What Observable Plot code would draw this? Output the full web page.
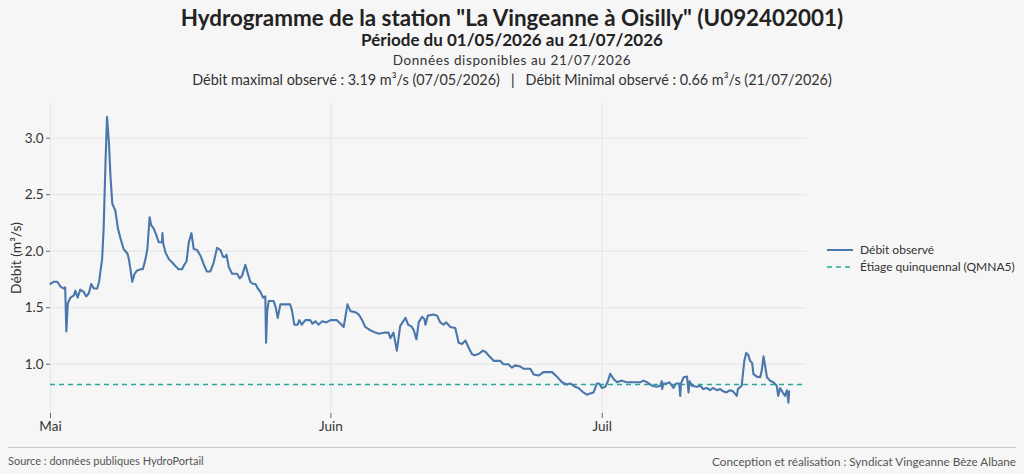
<!DOCTYPE html>
<html><head><meta charset="utf-8">
<script src="https://cdn.jsdelivr.net/npm/d3@7"></script>
<script src="https://cdn.jsdelivr.net/npm/@observablehq/plot@0.6"></script>
<style>
html,body{margin:0;padding:0;background:#f6f6f6;}
#page{position:relative;width:1024px;height:474px;background:#f6f6f6;font-family:"Lato","Noto Sans",sans-serif;color:#222;overflow:hidden;}
.t{position:absolute;left:0;width:1024px;text-align:center;white-space:nowrap;line-height:1;}
#chart{position:absolute;left:0;top:95px;}
#legend{position:absolute;left:827px;top:241px;font-size:12px;color:#333;}
#legend div{display:flex;align-items:center;height:17px;}
#legend svg{margin-right:7px;}
#foot{position:absolute;left:8px;top:447px;width:1008px;border-top:1px solid #c8c8c8;}
.f{position:absolute;top:454px;font-size:11px;color:#555;white-space:nowrap;}
</style></head>
<body><div id="page">
<div class="t" style="top:7px;font-size:22.4px;font-weight:bold;">Hydrogramme de la station "La Vingeanne à Oisilly" (U092402001)</div>
<div class="t" style="top:31px;font-size:17px;font-weight:bold;">Période du 01/05/2026 au 21/07/2026</div>
<div class="t" style="top:54px;font-size:13.5px;letter-spacing:0.6px;color:#333;">Données disponibles au 21/07/2026</div>
<div class="t" style="top:73px;font-size:14.4px;color:#333;">Débit maximal observé : 3.19 m³/s (07/05/2026) &nbsp;&nbsp;<span style="color:#222">|</span>&nbsp;&nbsp; Débit Minimal observé : 0.66 m³/s (21/07/2026)</div>
<div id="chart"></div>
<div id="legend">
 <div><svg width="26" height="4"><line x1="0" y1="2" x2="26" y2="2" stroke="#4a77ac" stroke-width="2"/></svg>Débit observé</div>
 <div><svg width="26" height="4"><line x1="0" y1="2" x2="26" y2="2" stroke="#2aa897" stroke-width="1.5" stroke-dasharray="5,4"/></svg>Étiage quinquennal (QMNA5)</div>
</div>
<div id="foot"></div>
<div class="f" style="left:8px;">Source : données publiques HydroPortail</div>
<div class="f" style="right:8px;font-size:11.7px;">Conception et réalisation : Syndicat Vingeanne Bèze Albane</div>
</div>
<script>
const dates = ["2026-05-01T00","2026-05-01T09","2026-05-01T18","2026-05-02T02","2026-05-02T11","2026-05-02T15","2026-05-02T18","2026-05-02T22",
"2026-05-03T05","2026-05-03T14","2026-05-03T18","2026-05-04T00","2026-05-04T07","2026-05-04T16","2026-05-04T23","2026-05-05T06","2026-05-05T12","2026-05-05T19",
"2026-05-06T04","2026-05-06T09","2026-05-06T12","2026-05-06T17","2026-05-06T21","2026-05-07T02","2026-05-07T06","2026-05-07T11","2026-05-07T15","2026-05-07T20",
"2026-05-08T04","2026-05-08T11","2026-05-08T18","2026-05-09T02","2026-05-09T12","2026-05-09T16","2026-05-10T01","2026-05-10T07","2026-05-10T14","2026-05-10T23",
"2026-05-11T05","2026-05-11T12","2026-05-11T17","2026-05-11T23","2026-05-12T03","2026-05-12T10","2026-05-12T16","2026-05-12T23","2026-05-13T08","2026-05-13T09",
"2026-05-13T11","2026-05-13T17","2026-05-14T02","2026-05-14T11","2026-05-14T19","2026-05-15T04","2026-05-15T13","2026-05-15T19","2026-05-16T01","2026-05-16T07",
"2026-05-16T14","2026-05-16T20","2026-05-17T05","2026-05-17T14","2026-05-17T23","2026-05-18T07","2026-05-18T16","2026-05-19T01","2026-05-19T10","2026-05-19T19",
"2026-05-20T02","2026-05-20T08","2026-05-20T11","2026-05-20T17","2026-05-21T02","2026-05-21T15","2026-05-21T22","2026-05-22T04","2026-05-22T13","2026-05-22T19",
"2026-05-23T02","2026-05-23T10","2026-05-23T16","2026-05-23T22","2026-05-24T05","2026-05-24T12","2026-05-24T18","2026-05-24T20","2026-05-24T23","2026-05-25T03",
"2026-05-25T16","2026-05-25T21","2026-05-26T03","2026-05-26T10","2026-05-27T12","2026-05-27T17","2026-05-27T23","2026-05-28T08","2026-05-28T12","2026-05-28T19",
"2026-05-29T04","2026-05-29T17","2026-05-29T23","2026-05-30T07","2026-05-30T15","2026-05-31T01","2026-05-31T12","2026-05-31T23","2026-06-01T16","2026-06-02T01",
"2026-06-02T10","2026-06-02T20","2026-06-03T04","2026-06-03T17","2026-06-04T02","2026-06-04T11","2026-06-04T19","2026-06-05T09","2026-06-05T22","2026-06-06T07",
"2026-06-07T00","2026-06-07T09","2026-06-07T14","2026-06-07T22","2026-06-08T07","2026-06-08T16","2026-06-09T06","2026-06-09T13","2026-06-09T23","2026-06-10T04",
"2026-06-10T11","2026-06-10T17","2026-06-11T02","2026-06-11T08","2026-06-11T11","2026-06-11T17","2026-06-12T08","2026-06-12T18","2026-06-13T02","2026-06-13T11",
"2026-06-13T18","2026-06-14T05","2026-06-14T18","2026-06-15T03","2026-06-15T12","2026-06-15T21","2026-06-16T05","2026-06-16T14","2026-06-16T21","2026-06-17T08",
"2026-06-17T19","2026-06-18T02","2026-06-18T10","2026-06-19T00","2026-06-19T17","2026-06-20T02","2026-06-20T15","2026-06-21T00","2026-06-21T09","2026-06-21T22",
"2026-06-22T07","2026-06-23T01","2026-06-23T10","2026-06-23T23","2026-06-24T12","2026-06-25T11","2026-06-26T00","2026-06-26T13","2026-06-27T02","2026-06-27T11",
"2026-06-28T00","2026-06-28T09","2026-06-28T22","2026-06-29T07","2026-06-29T16","2026-06-30T01","2026-06-30T10","2026-06-30T16","2026-06-30T23","2026-07-01T08",
"2026-07-01T14","2026-07-01T21","2026-07-02T06","2026-07-02T15","2026-07-03T04","2026-07-03T16","2026-07-05T05","2026-07-05T13","2026-07-05T23","2026-07-06T12",
"2026-07-07T01","2026-07-07T10","2026-07-07T14","2026-07-07T15","2026-07-07T18","2026-07-08T03","2026-07-08T10","2026-07-08T15","2026-07-08T21","2026-07-09T04",
"2026-07-09T12","2026-07-09T15","2026-07-09T17","2026-07-10T00","2026-07-10T09","2026-07-10T13","2026-07-10T16","2026-07-10T22","2026-07-11T11","2026-07-11T20",
"2026-07-12T04","2026-07-12T13","2026-07-12T22","2026-07-13T06","2026-07-13T16","2026-07-14T01","2026-07-14T09","2026-07-14T18","2026-07-15T03","2026-07-15T11",
"2026-07-15T21","2026-07-16T00","2026-07-16T10","2026-07-16T17","2026-07-16T22","2026-07-17T04","2026-07-17T08","2026-07-17T14","2026-07-17T17","2026-07-18T02",
"2026-07-18T11","2026-07-18T15","2026-07-18T20","2026-07-19T00","2026-07-19T05","2026-07-19T13","2026-07-19T22","2026-07-20T07","2026-07-20T11","2026-07-20T16",
"2026-07-20T23","2026-07-21T05","2026-07-21T10","2026-07-21T14","2026-07-21T16"];
const flows = [1.71,1.73,1.73,1.69,1.67,1.68,1.29,1.54,
1.59,1.61,1.65,1.59,1.66,1.64,1.60,1.63,1.71,1.67,
1.67,1.73,1.81,1.93,2.20,2.79,3.19,2.96,2.67,2.42,
2.36,2.20,2.11,2.02,1.98,1.93,1.73,1.80,1.83,1.84,
1.84,1.93,2.02,2.30,2.23,2.20,2.15,2.08,2.08,2.16,
2.07,1.99,1.93,1.90,1.87,1.84,1.84,1.88,1.91,2.08,
2.16,2.02,2.01,1.96,1.88,1.82,1.82,1.90,2.03,2.01,
1.95,1.95,1.97,1.86,1.80,1.80,1.76,1.78,1.88,1.81,
1.73,1.71,1.71,1.67,1.64,1.59,1.60,1.19,1.47,1.56,
1.56,1.51,1.41,1.53,1.53,1.47,1.35,1.35,1.39,1.35,
1.39,1.39,1.36,1.38,1.35,1.38,1.37,1.39,1.39,1.36,
1.33,1.53,1.47,1.46,1.44,1.39,1.33,1.30,1.28,1.27,
1.28,1.28,1.23,1.28,1.12,1.34,1.41,1.35,1.33,1.30,
1.22,1.37,1.42,1.40,1.35,1.43,1.44,1.43,1.37,1.35,
1.37,1.33,1.32,1.19,1.18,1.21,1.15,1.09,1.08,1.09,
1.12,1.11,1.08,1.03,1.03,1.00,1.00,0.97,0.99,0.98,
0.96,0.96,0.91,0.90,0.93,0.93,0.89,0.84,0.82,0.83,
0.80,0.79,0.75,0.73,0.74,0.75,0.83,0.83,0.79,0.80,
0.84,0.915,0.87,0.84,0.855,0.84,0.84,0.855,0.84,0.81,
0.80,0.81,0.85,0.78,0.83,0.83,0.84,0.82,0.79,0.83,
0.83,0.72,0.83,0.885,0.89,0.75,0.85,0.81,0.80,0.81,
0.78,0.79,0.77,0.79,0.77,0.78,0.76,0.75,0.77,0.76,
0.72,0.78,0.81,1.03,1.10,1.08,1.03,1.01,0.915,0.89,
0.885,0.94,1.07,0.99,0.885,0.855,0.84,0.81,0.72,0.79,
0.75,0.72,0.77,0.66,0.76];
const qmna5 = 0.82;
const monthTicks = ["2026-05-01T00","2026-06-01T00","2026-07-01T00"];
const monthLabels = ["Mai","Juin","Juil"];
const yTicks = [1.0,1.5,2.0,2.5,3.0];
const xDomain = ["2026-05-01T00","2026-07-23T14"];
const yDomain = [0.564,3.316];

const parse = d3.utcParse("%Y-%m-%dT%H");
const data = dates.map((d,i)=>({date:parse(d), q:flows[i]}));
const tickDates = monthTicks.map(parse);
const labelOf = new Map(tickDates.map((d,i)=>[+d, monthLabels[i]]));

const chart = Plot.plot({
  width: 1024, height: 345,
  marginLeft: 50, marginRight: 218, marginTop: 7, marginBottom: 27,
  style: {background: "transparent", fontFamily: "Lato, 'Noto Sans', sans-serif", fontSize: "13px", color: "#333"},
  x: {type: "utc", domain: xDomain.map(parse), ticks: tickDates, tickFormat: d => labelOf.get(+d), tickSize: 5, label: null, grid: false},
  y: {domain: yDomain, ticks: yTicks, tickFormat: d3.format(".1f"), tickSize: 4, label: null},
  marks: [
    Plot.gridY(yTicks, {stroke: "#e4e4e4", strokeOpacity: 1, strokeWidth: 1}),
    Plot.gridX(tickDates, {stroke: "#e4e4e4", strokeOpacity: 1, strokeWidth: 1}),
    Plot.axisX({ticks: tickDates, tickFormat: d => labelOf.get(+d), tickSize: 5, tickPadding: 3, stroke: "#666", label: null, fontSize: 13.5}),
    Plot.axisY({ticks: yTicks, tickFormat: d3.format(".1f"), tickSize: 4, tickPadding: 3, stroke: "#666", label: null, fontSize: 13.5}),
    Plot.ruleY([qmna5], {stroke: "#2aa897", strokeWidth: 1.5, strokeDasharray: "5,4"}),
    Plot.line(data, {x: "date", y: "q", stroke: "#4a77ac", strokeWidth: 2.1}),
    Plot.text(["Débit (m³/s)"], {frameAnchor: "left", textAnchor: "middle", dx: -34, rotate: -90, fontSize: 13.8, fill: "#333"})
  ]
});
document.getElementById("chart").appendChild(chart);
</script>
</body></html>
